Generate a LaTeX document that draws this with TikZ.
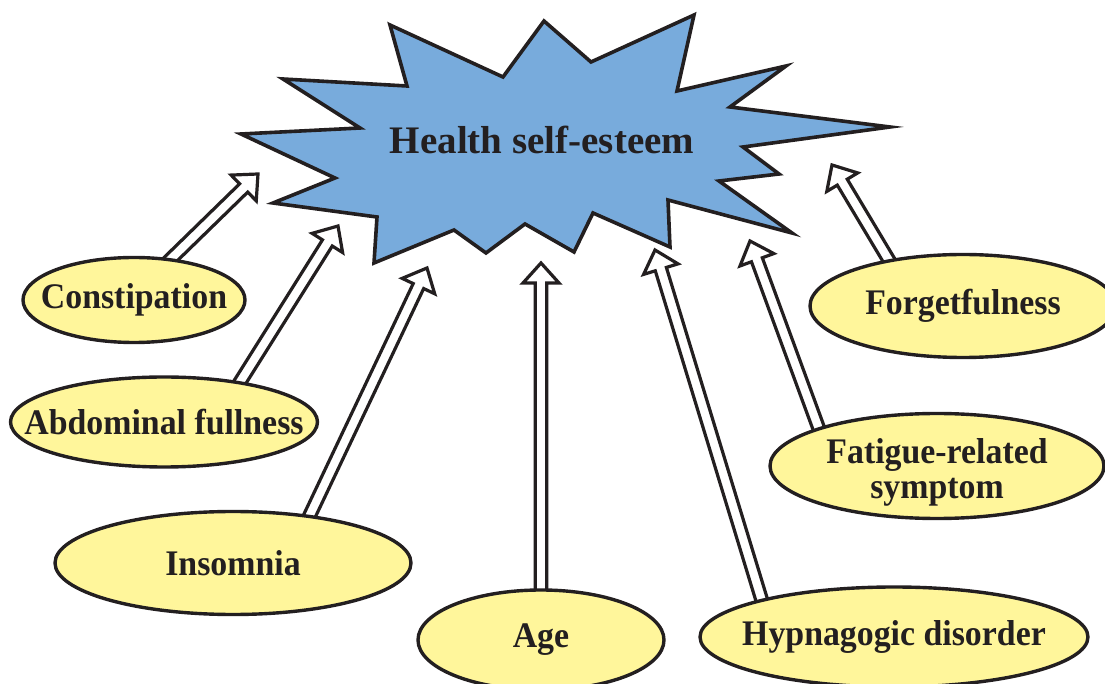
\documentclass[tikz,border=0pt]{standalone}
\usepackage{fontspec}
\setmainfont{Liberation Serif}
\newfontfamily\causefont{Liberation Serif}[FakeStretch=0.94]
\usepackage{tikz}
\usetikzlibrary{calc,shapes.geometric,backgrounds}
\definecolor{inkline}{RGB}{35,31,32}
\definecolor{burstblue}{RGB}{120,171,220}
\definecolor{causeyellow}{RGB}{255,246,155}
\tikzset{
    burst/.style={
           draw=inkline, line width=1.8pt,
           fill=burstblue,
           line join=miter,
           },
}
\tikzset{
    cause/.style={
           ellipse,
           draw=inkline, line width=1.7pt,
           fill=causeyellow,
           inner sep=0pt,
           text=inkline,
           font=\causefont\bfseries\fontsize{18}{17.5}\selectfont,
           },
}
\tikzset{
    hollow/.style={
           draw=inkline, line width=1.6pt,
           fill=white,
           line join=miter,
           },
}
\newcommand{\hollowarrow}[2]{%
  \coordinate (ha) at ($(#1)!-6pt!(#2)$);
  \coordinate (hb) at ($(#2)!10pt!(#1)$);
  \filldraw[hollow]
    ($(ha)!2.9pt!90:(#2)$) -- ($(hb)!2.9pt!90:(#2)$) -- ($(hb)!9pt!90:(#2)$)
    -- (#2)
    -- ($(hb)!9pt!-90:(#2)$) -- ($(hb)!2.9pt!-90:(#2)$) -- ($(ha)!2.9pt!-90:(#2)$);
}

\begin{document}
\begin{tikzpicture}[x=0.5pt,y=-0.5pt]
\useasboundingbox (0,0) rectangle (1105,684);
\draw[burst] (390,25) -- (407,86) -- (283,79) -- (360,128) -- (241,134) -- (335,178)
  -- (273,203) -- (377,217) -- (374,263) -- (454,230) -- (486,253) -- (525,224)
  -- (574,252) -- (593,213) -- (670,247) -- (668,200) -- (792,233) -- (719,181)
  -- (779,174) -- (743,147) -- (890,127) -- (730,107) -- (786,66) -- (677,91)
  -- (694,15) -- (591,62) -- (544,21) -- (503,77) -- cycle;
\node[text=inkline,font=\bfseries\fontsize{19.5}{20}\selectfont](hse) at (542,140){Health self-esteem};

\node[cause,minimum width=111pt,minimum height=42.5pt](cons) at (134,300){\makebox[0pt]{Constipation}};
\node[cause,minimum width=153.5pt,minimum height=45pt](abd) at (164,422){\makebox[0pt]{Abdominal fullness}};
\node[cause,minimum width=178pt,minimum height=51.5pt](ins) at (233,563){\makebox[0pt]{Insomnia}};
\node[cause,minimum width=123pt,minimum height=50pt](age) at (541,640){\makebox[0pt]{Age}};
\node[cause,minimum width=194pt,minimum height=50pt](hyp) at (894,637){\makebox[0pt]{Hypnagogic disorder}};
\node[cause,minimum width=167pt,minimum height=52.5pt](fat) at (937,466){\makebox[0pt]{\raisebox{-4pt}[\height][\depth]{\begin{tabular}{@{}c@{}}Fatigue-related\\symptom\end{tabular}}}};
\node[cause,minimum width=153pt,minimum height=51.5pt](forg) at (963,306){\makebox[0pt]{Forgetfulness}};

\coordinate (tcons) at (258,174);
\coordinate (tabd) at (338,226);
\coordinate (tins) at (427,268);
\coordinate (tage) at (541,263);
\coordinate (thyp) at (655,250);
\coordinate (tfat) at (750,241);
\coordinate (tforg) at (832,165);

\begin{scope}[on background layer]
\hollowarrow{cons.48}{tcons}
\hollowarrow{abd.28}{tabd}
\hollowarrow{ins.32}{tins}
\hollowarrow{age.90}{tage}
\hollowarrow{hyp.164}{thyp}
\hollowarrow{fat.162}{tfat}
\hollowarrow{forg.148}{tforg}
\end{scope}
\end{tikzpicture}
\end{document}
